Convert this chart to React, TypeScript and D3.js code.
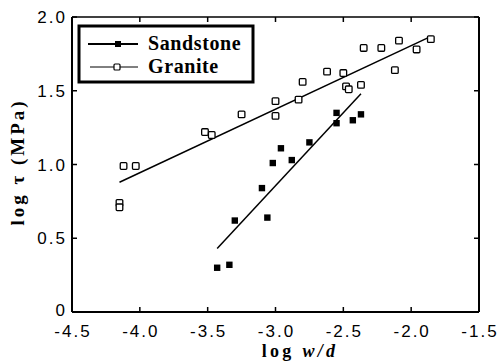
import React from 'react';
import * as d3 from 'd3';

const xTicks = [-4.5, -4.0, -3.5, -3.0, -2.5, -2.0, -1.5];
const yTicks = [0, 0.5, 1.0, 1.5, 2.0];
const xTickLabels = ['-4.5', '-4.0', '-3.5', '-3.0', '-2.5', '-2.0', '-1.5'];
const yTickLabels = ['0', '0.5', '1.0', '1.5', '2.0'];

const sandX = [-3.43, -3.34, -3.30, -3.06, -3.10, -3.02, -2.96, -2.88, -2.75, -2.55, -2.55, -2.43, -2.37];
const sandY = [0.30, 0.32, 0.62, 0.64, 0.84, 1.01, 1.11, 1.03, 1.15, 1.35, 1.28, 1.30, 1.34];

const graniteX = [-4.15, -4.15, -4.12, -4.03, -3.52, -3.47, -3.25, -3.0, -3.0, -2.83, -2.8, -2.62, -2.5, -2.48, -2.46, -2.37, -2.35, -2.22, -2.09, -2.12, -1.96, -1.855];
const graniteY = [0.74, 0.71, 0.99, 0.99, 1.22, 1.2, 1.34, 1.43, 1.33, 1.44, 1.56, 1.63, 1.62, 1.53, 1.51, 1.54, 1.79, 1.79, 1.84, 1.64, 1.78, 1.85];

const sandFitX = [-3.43, -2.37];
const sandFitY = [0.43, 1.48];
const graniteFitX = [-4.15, -1.85];
const graniteFitY = [0.88, 1.87];

const W = 502;
const H = 362;
const left = 72, right = 479, top = 17, bottom = 312;

const App = () => {
    const x = d3.scaleLinear().domain([-4.5, -1.5]).range([left, right]);
    const y = d3.scaleLinear().domain([0, 2]).range([bottom, top]);

    const line = d3.line<[number, number]>()
        .x(d => x(d[0]))
        .y(d => y(d[1]));

    const sandFit = line(sandFitX.map((v, i) => [v, sandFitY[i]]) as [number, number][]);
    const graniteFit = line(graniteFitX.map((v, i) => [v, graniteFitY[i]]) as [number, number][]);

    const tickFont = { fontFamily: '"Liberation Sans", Arial, sans-serif', fontSize: 17, letterSpacing: 2 };
    const titleFont = { fontFamily: '"Liberation Serif", "Times New Roman", serif', fontWeight: 'bold' as const, fontSize: 18, letterSpacing: 3.3 };

    return (
        <svg width={W} height={H} style={{ position: 'absolute', left: 0, top: 0, background: '#fff' }}>
            {/* frame */}
            <line x1={left} y1={top} x2={right} y2={top} stroke="#000" strokeWidth={1.5} />
            <line x1={left} y1={top} x2={left} y2={bottom} stroke="#000" strokeWidth={2} />
            <line x1={right} y1={top} x2={right} y2={bottom} stroke="#000" strokeWidth={2} />
            <line x1={left} y1={bottom} x2={right} y2={bottom} stroke="#000" strokeWidth={2.2} />

            {xTicks.map((t, i) => (
                <g key={'xt' + i}>
                    <line x1={x(t)} x2={x(t)} y1={bottom} y2={bottom - 5} stroke="#000" strokeWidth={1.5} />
                    <line x1={x(t)} x2={x(t)} y1={top} y2={top + 5} stroke="#000" strokeWidth={1.5} />
                    <text x={x(t) + 1} y={337} textAnchor="middle" {...tickFont}>{xTickLabels[i]}</text>
                </g>
            ))}
            {yTicks.map((t, i) => (
                <g key={'yt' + i}>
                    <line x1={left} x2={left + 5} y1={y(t)} y2={y(t)} stroke="#000" strokeWidth={1.5} />
                    <line x1={right} x2={right - 5} y1={y(t)} y2={y(t)} stroke="#000" strokeWidth={1.5} />
                    <text x={67} y={i === 0 ? y(t) + 4 : y(t) + 6} textAnchor="end" {...tickFont}>{yTickLabels[i]}</text>
                </g>
            ))}

            {/* fit lines */}
            <path d={graniteFit || ''} fill="none" stroke="#000" strokeWidth={1.5} />
            <path d={sandFit || ''} fill="none" stroke="#000" strokeWidth={1.5} />

            {/* granite points */}
            {graniteX.map((v, i) => (
                <rect key={'g' + i} x={x(v) - 3.3} y={y(graniteY[i]) - 3.3} width={6.6} height={6.6}
                    rx={1} fill="#fff" stroke="#000" strokeWidth={1.3} />
            ))}
            {/* sandstone points */}
            {sandX.map((v, i) => (
                <rect key={'s' + i} x={x(v) - 3.2} y={y(sandY[i]) - 3.2} width={6.4} height={6.4} fill="#000" />
            ))}

            {/* legend */}
            <rect x={79} y={26} width={174} height={56} fill="#fff" stroke="#000" strokeWidth={3} />
            <line x1={88} x2={138} y1={44} y2={44} stroke="#000" strokeWidth={2} />
            <rect x={115} y={41} width={6} height={6} fill="#000" />
            <text x={148} y={50} fontFamily='"Liberation Serif", "Times New Roman", serif' fontWeight="bold" fontSize={20} letterSpacing={0.6}>Sandstone</text>
            <line x1={90} x2={138} y1={67} y2={67} stroke="#000" strokeWidth={1} />
            <rect x={114} y={64} width={6} height={6} rx={1} fill="#fff" stroke="#000" strokeWidth={1.2} />
            <text x={148} y={73} fontFamily='"Liberation Serif", "Times New Roman", serif' fontWeight="bold" fontSize={20} letterSpacing={0.6}>Granite</text>

            {/* axis titles */}
            <text x={300} y={357} textAnchor="middle" {...titleFont}>
                log <tspan fontStyle="italic">w/d</tspan>
            </text>
            <text transform={`translate(24,162) rotate(-90)`} textAnchor="middle" {...titleFont} fontSize={19} letterSpacing={3}>
                log τ (MPa)
            </text>
        </svg>
    );
};

export default App;
